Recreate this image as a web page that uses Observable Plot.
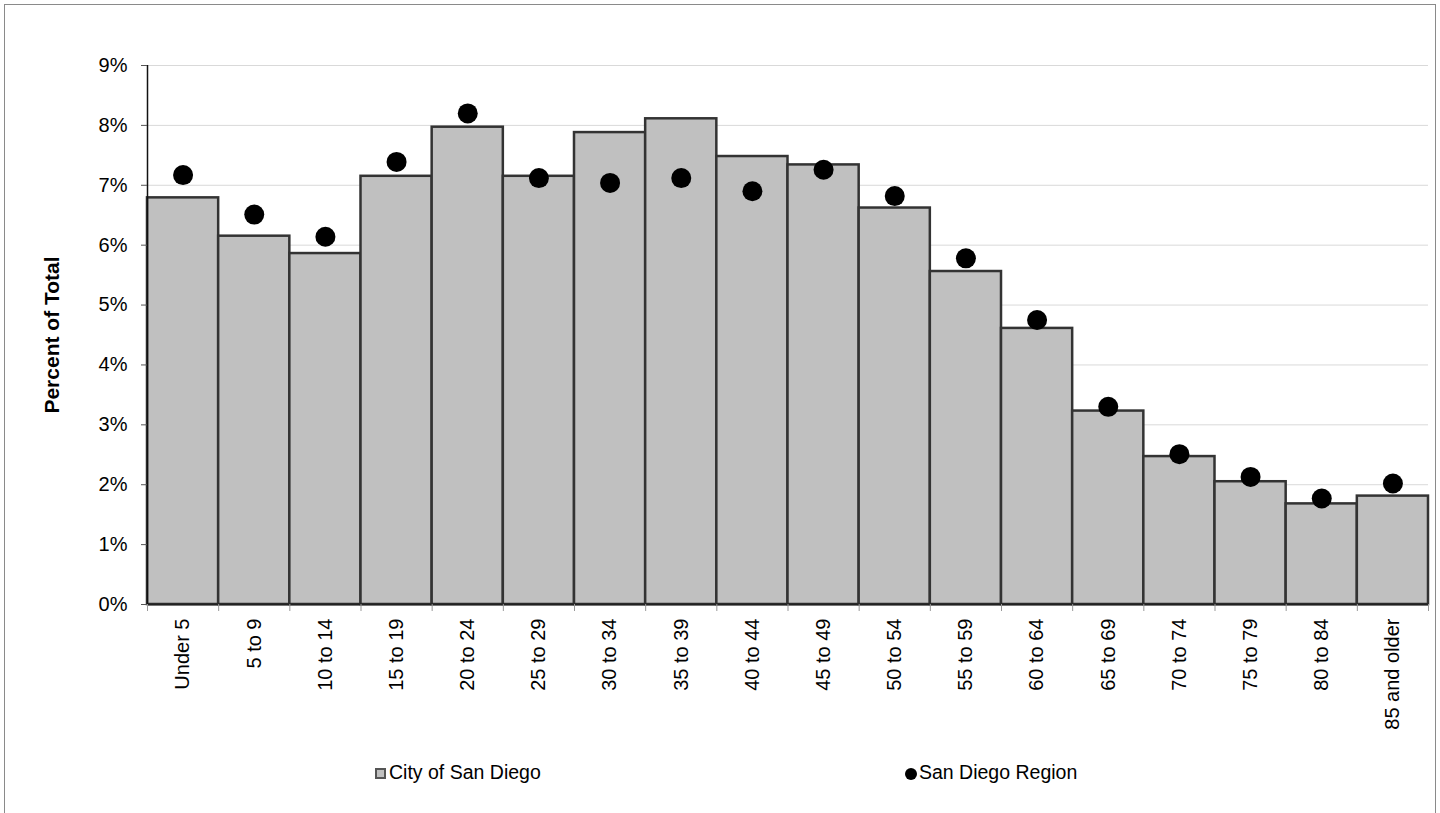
<!DOCTYPE html>
<html><head><meta charset="utf-8">
<script src="https://cdn.jsdelivr.net/npm/d3@7"></script>
<script src="https://cdn.jsdelivr.net/npm/@observablehq/plot@0.6"></script>
<style>
html,body{margin:0;padding:0;background:#fff;overflow:hidden;width:1440px;height:813px;}
#frame{position:absolute;left:4px;top:4px;width:1432px;height:900px;border:1.5px solid #8a8a8a;box-sizing:border-box;}
#chart{position:absolute;left:0;top:0;}
.lg{position:absolute;font-family:"Liberation Sans",Arial,sans-serif;font-size:19.5px;line-height:20px;color:#000;white-space:nowrap;}
.sw{position:absolute;box-sizing:border-box;}
</style>
</head><body>
<div id="frame"></div>
<div id="chart"></div>
<div class="sw" style="left:375px;top:768px;width:11px;height:11px;background:#c0c0c0;border:2px solid #555;"></div>
<div class="lg" style="left:389px;top:762px;">City of San Diego</div>
<div class="sw" style="left:905px;top:768px;width:12px;height:12px;background:#000;border-radius:50%;"></div>
<div class="lg" style="left:919px;top:762px;">San Diego Region</div>
<script>
const ageGroups = ["Under 5","5 to 9","10 to 14","15 to 19","20 to 24","25 to 29","30 to 34","35 to 39","40 to 44","45 to 49","50 to 54","55 to 59","60 to 64","65 to 69","70 to 74","75 to 79","80 to 84","85 and older"];
const cityValues = [6.79,6.15,5.86,7.15,7.97,7.15,7.88,8.11,7.48,7.34,6.62,5.56,4.61,3.23,2.47,2.05,1.68,1.81];
const regionValues = [7.17,6.51,6.14,7.39,8.20,7.12,7.04,7.12,6.90,7.26,6.82,5.78,4.75,3.30,2.51,2.13,1.77,2.02];
const yTicks = [0,1,2,3,4,5,6,7,8,9];

const data = ageGroups.map((g, i) => ({group: g, i, city: cityValues[i], region: regionValues[i]}));

const chart = Plot.plot({
  width: 1440,
  height: 813,
  marginLeft: 147,
  marginRight: 12,
  marginTop: 65,
  marginBottom: 209,
  style: {fontFamily: "'Liberation Sans', Arial, sans-serif", fontSize: "20px", color: "#000", background: "transparent"},
  x: {type: "linear", domain: [0, ageGroups.length], axis: null},
  y: {domain: [0, 9], axis: null},
  marks: [
    Plot.gridY(yTicks, {stroke: "#d9d9d9", strokeOpacity: 1, strokeWidth: 1}),
    Plot.rectY(data, {x1: "i", x2: d => d.i + 1, y: "city", fill: "#c0c0c0", stroke: "#333", strokeWidth: 2.5}),
    Plot.ruleY([0], {stroke: "#222", strokeWidth: 2}),
    Plot.ruleX([0], {stroke: "#111", strokeWidth: 1.5}),
    Plot.dot(data, {x: d => d.i + 0.5, y: "region", r: 10, fill: "#000", stroke: "none"}),
    Plot.axisY({ticks: yTicks, tickFormat: d => d + "%", tickSize: 6, tickPadding: 14, stroke: "#555",
      label: "Percent of Total", labelAnchor: "center", labelOffset: 103, labelArrow: "none"}),
    Plot.axisX({ticks: d3.range(ageGroups.length + 1), tickFormat: () => "", tickSize: 7, stroke: "#999", label: null}),
    Plot.axisX({ticks: ageGroups.map((_, i) => i + 0.5), tickFormat: v => ageGroups[Math.floor(v)], tickSize: 0, tickPadding: 14, tickRotate: -90, label: null})
  ]
});
document.getElementById("chart").appendChild(chart);
chart.querySelectorAll('[aria-label="y-axis label"] text').forEach(t => {
  t.setAttribute("font-weight", "bold");
  t.setAttribute("font-size", "21px");
});
</script>
</body></html>
